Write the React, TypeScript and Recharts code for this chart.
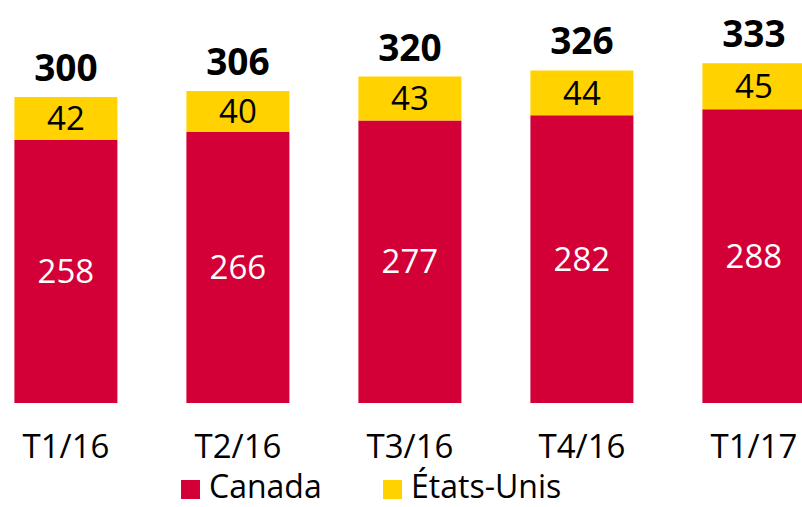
import { BarChart, Bar, XAxis, YAxis, Legend, LabelList } from 'recharts';

const quarters = ['T1/16', 'T2/16', 'T3/16', 'T4/16', 'T1/17'];
const canada = [258, 266, 277, 282, 288];
const etatsUnis = [42, 40, 43, 44, 45];
const totals = [300, 306, 320, 326, 333];

const RED = '#d20036';
const YELLOW = '#ffd200';
const FONT = '"Open Sans", "DejaVu Sans", sans-serif';

const data = quarters.map((q, i) => ({
  name: q,
  canada: canada[i],
  us: etatsUnis[i],
  total: totals[i],
}));

const legendItems = [
  { label: 'Canada', color: RED },
  { label: 'États-Unis', color: YELLOW },
];

function QuarterTick({ x, y, payload }: any) {
  return (
    <text x={x} y={y + 53} textAnchor="middle" fill="#000" fontSize={33} fontFamily={FONT}>
      {payload.value}
    </text>
  );
}

// legend box is 54px tall, sits under the axis
function SeriesLegend() {
  return (
    <div style={{ height: 54, position: 'relative', width: 420, fontFamily: FONT }}>
      {legendItems.map((item, i) => (
        <div
          key={item.label}
          style={{ position: 'absolute', left: i * 202, top: 0, height: 54, display: 'flex', alignItems: 'flex-start' }}
        >
          <div style={{ width: 19, height: 19, marginTop: 27, background: item.color }} />
          <span style={{ marginLeft: 9, fontSize: 32, lineHeight: '32px', marginTop: 17, color: '#000' }}>
            {item.label}
          </span>
        </div>
      ))}
    </div>
  );
}

export default function App() {
  return (
    <div
      style={{
        position: 'absolute',
        left: 0,
        top: 0,
        width: 802,
        height: 507,
        overflow: 'hidden',
        background: '#fff',
        fontFamily: FONT,
      }}
    >
      <div style={{ position: 'absolute', left: -20, top: 0 }}>
        <BarChart
          width={860}
          height={507}
          data={data}
          barCategoryGap="20%"
          margin={{ top: 46, right: 0, bottom: 0, left: 0 }}
        >
          <XAxis
            dataKey="name"
            axisLine={false}
            tickLine={false}
            tickSize={0}
            height={50}
            interval={0}
            tick={<QuarterTick />}
          />
          <YAxis hide domain={[0, 350]} />
          <Legend
            verticalAlign="bottom"
            content={<SeriesLegend />}
            wrapperStyle={{ left: 201, bottom: 0, width: 420 }}
          />
          <Bar dataKey="canada" stackId="a" fill={RED} isAnimationActive={false}>
            <LabelList dataKey="canada" position="center" fill="#fff" fontSize={33} fontFamily={FONT} />
          </Bar>
          <Bar dataKey="us" stackId="a" fill={YELLOW} isAnimationActive={false}>
            <LabelList dataKey="us" position="center" fill="#000" fontSize={33} fontFamily={FONT} />
            <LabelList
              dataKey="total"
              position="top"
              offset={16}
              fill="#000"
              fontSize={37}
              fontWeight="bold"
              fontFamily={FONT}
            />
          </Bar>
        </BarChart>
      </div>
    </div>
  );
}
